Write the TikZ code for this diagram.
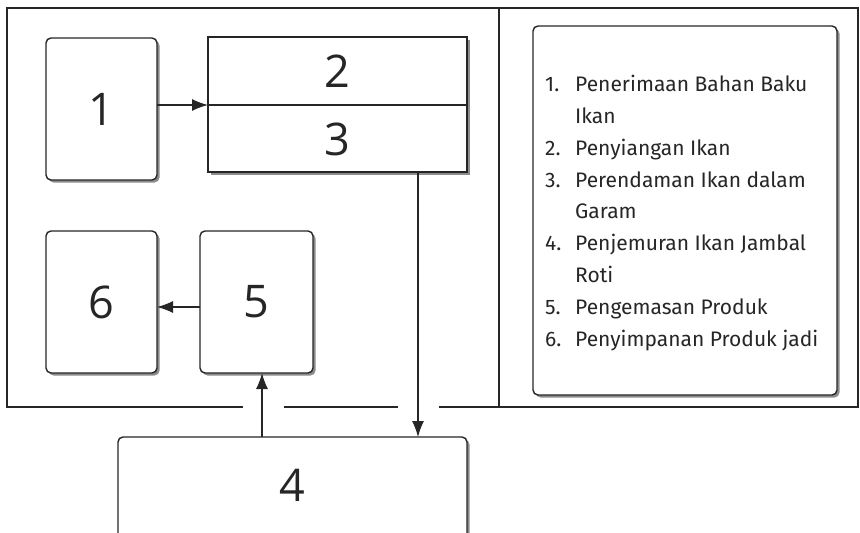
\documentclass[tikz,border=0pt]{standalone}
\usepackage{fontspec}
\setmainfont{Fira Sans}
\newfontfamily\digitfont{Open Sans}
\usetikzlibrary{arrows.meta}
\begin{document}
\begin{tikzpicture}[x=1pt,y=-1pt,
  frame/.style={line width=2.4pt,draw=black!85},
  shad/.style={preaction={fill=black!45,transform canvas={xshift=2.5pt,yshift=-2.5pt}}},
  rbox/.style={draw=black!85,line width=1.4pt,fill=white,rounded corners=5pt,shad},
  sbox/.style={draw=black!85,line width=1.4pt,fill=white,shad},
  digit/.style={font=\digitfont\fontsize{45}{48}\selectfont,text=black!85},
  arr/.style={draw=black!85,line width=1.2pt,-{Latex[length=16pt,width=12pt]}},
  leg/.style={anchor=base west,inner sep=0pt,font=\fontsize{21}{22}\selectfont,text=black!85}
]
\useasboundingbox (0,0) rectangle (860,533);
\begin{scope}
\clip (0,0) rectangle (860,533);
% frame
\draw[frame] (243,407) -- (7,407) -- (7,8) -- (858,8) -- (858,407) -- (439,407);
\draw[frame] (284,407) -- (398,407);
\draw[frame] (499,8) -- (499,407);
% boxes
\filldraw[rbox] (46,38) rectangle (157,180);
\node[digit] (n1) at (101.5,109) {1};
\coordinate (b1e) at (157,105);
\filldraw[sbox] (208,37) rectangle (467,172);
\draw[draw=black!85,line width=1.4pt] (208,105) -- (467,105);
\node[digit] (n2) at (337.5,71) {2};
\node[digit] (n3) at (337.5,139) {3};
\coordinate (b2w) at (208,105);
\coordinate (b3s) at (418,172);
\filldraw[rbox] (46,231) rectangle (157,373);
\node[digit] (n6) at (101.5,302) {6};
\coordinate (b6e) at (157,307);
\filldraw[rbox] (200,231) rectangle (313,373);
\node[digit] (n5) at (256.5,302) {5};
\coordinate (b5w) at (200,307);
\coordinate (b5s) at (262,373);
\filldraw[rbox] (118,437) rectangle (467,545);
\node[digit] (n4) at (292.5,485) {4};
\coordinate (b4n1) at (262,437);
\coordinate (b4n2) at (418,437);
% arrows
\draw[arr] (b1e) -- (b2w);
\draw[arr] (b3s) -- (b4n2);
\draw[arr] (b4n1) -- (b5s);
\draw[arr] (b5w) -- (b6e);
% legend
\filldraw[rbox] (533,26) rectangle (837,395);
\node[leg] (l1) at (545,91) {1.};  \node[leg] (t1) at (575,91) {Penerimaan Bahan Baku};
\node[leg] (t1b) at (575,123) {Ikan};
\node[leg] (l2) at (545,155) {2.}; \node[leg] (t2) at (575,155) {Penyiangan Ikan};
\node[leg] (l3) at (545,187) {3.}; \node[leg] (t3) at (575,187) {Perendaman Ikan dalam};
\node[leg] (t3b) at (575,218) {Garam};
\node[leg] (l4) at (545,250) {4.}; \node[leg] (t4) at (575,250) {Penjemuran Ikan Jambal};
\node[leg] (t4b) at (575,282) {Roti};
\node[leg] (l5) at (545,314) {5.}; \node[leg] (t5) at (575,314) {Pengemasan Produk};
\node[leg] (l6) at (545,346) {6.}; \node[leg] (t6) at (575,346) {Penyimpanan Produk jadi};
\end{scope}
\end{tikzpicture}
\end{document}
